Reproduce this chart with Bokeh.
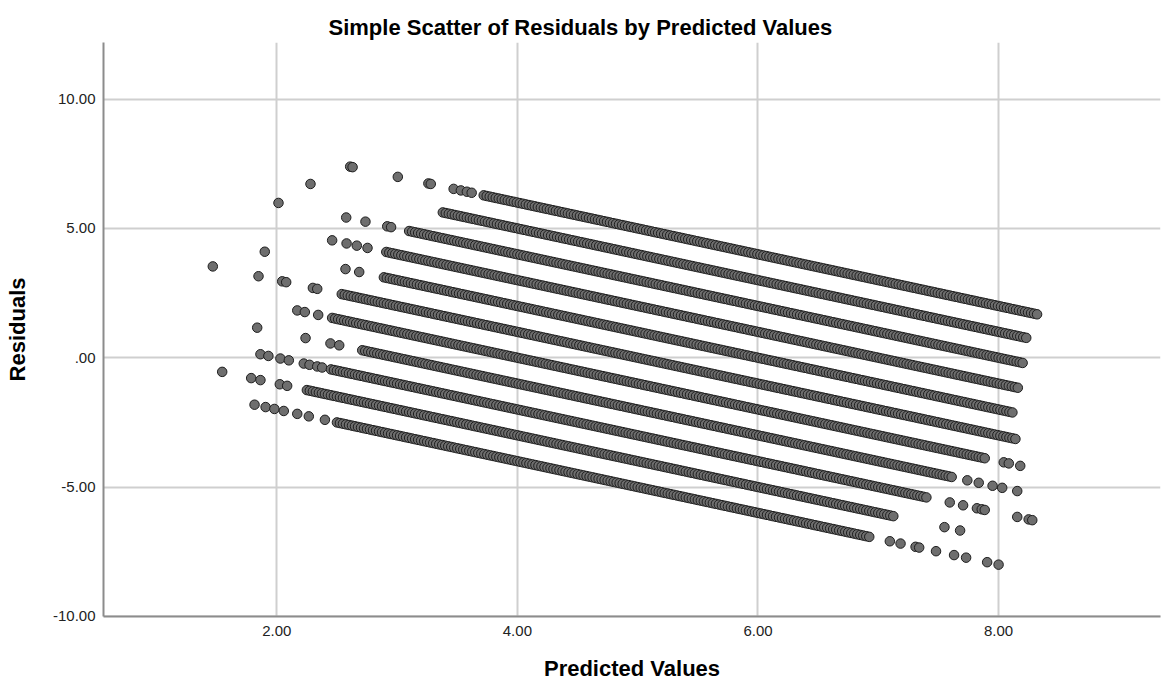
import numpy as np
from bokeh.plotting import figure
from bokeh.models import FixedTicker, Range1d, Title, ColumnDataSource
from bokeh.embed import file_html
from bokeh.resources import INLINE

# ---- data ----
# Observed outcome levels (each diagonal band of residuals = level - predicted)
OBSERVED_LEVELS = [0, 1, 2, 3, 4, 5, 6, 7, 8, 9, 10]
# Extent of the densely packed run of predicted values for each level
DENSE_START = [2.50, 2.25, 2.45, 2.71, 2.46, 2.54, 2.89, 2.91, 3.10, 3.38, 3.72]
DENSE_END = [6.94, 7.14, 7.42, 7.63, 7.905, 8.155, 8.13, 8.17, 8.22, 8.24, 8.32]
DENSE_STEP = 0.025
# Isolated predicted values outside the dense runs, per level
ISOLATED_PRED = [
    [1.815, 1.907, 1.98, 2.058, 2.17, 2.266, 2.40, 7.096, 7.185, 7.31, 7.34,
     7.48, 7.63, 7.73, 7.905, 8.0],
    [1.546, 1.787, 1.864, 2.025, 2.086, 7.55, 7.68],
    [1.864, 1.93, 2.03, 2.10, 2.224, 2.272, 2.336, 2.377, 7.594, 7.705, 7.82,
     7.86, 7.885, 8.155, 8.25, 8.28],
    [1.837, 2.239, 2.446, 2.519, 7.74, 7.835, 7.95, 8.03, 8.155],
    [2.17, 2.233, 2.344, 8.043, 8.085, 8.18],
    [1.468, 1.848, 2.045, 2.078, 2.30, 2.336],
    [1.90, 2.571, 2.685],
    [2.46, 2.58, 2.665, 2.754],
    [2.014, 2.577, 2.737, 2.918, 2.95],
    [2.28],
    [2.61, 2.63, 3.006, 3.26, 3.28, 3.47, 3.53, 3.58, 3.62],
]
X_TICKS = [2, 4, 6, 8]
X_TICK_LABELS = ["2.00", "4.00", "6.00", "8.00"]
Y_TICKS = [-10, -5, 0, 5, 10]
Y_TICK_LABELS = ["-10.00", "-5.00", ".00", "5.00", "10.00"]

TITLE = "Simple Scatter of Residuals by Predicted Values"
X_LABEL = "Predicted Values"
Y_LABEL = "Residuals"

# ---- build the point table ----
pred_all, resid_all = [], []
for lvl, s, e, iso in zip(OBSERVED_LEVELS, DENSE_START, DENSE_END, ISOLATED_PRED):
    run = np.arange(s, e + 1e-9, DENSE_STEP)
    pv = np.concatenate([np.array(iso, dtype=float), run])
    pred_all.append(pv)
    resid_all.append(lvl - pv)
src = ColumnDataSource(dict(pred=np.concatenate(pred_all), resid=np.concatenate(resid_all)))

FONT = "Liberation Sans"

p = figure(width=1164, height=684, output_backend="svg", toolbar_location=None,
           x_range=Range1d(0.5594, 9.346), y_range=Range1d(-10.005, 12.19),
           min_border_left=103, min_border_right=4, min_border_top=42, min_border_bottom=68)
p.title = Title(text=TITLE, align="left", offset=225, text_font=FONT,
                text_font_size="22px", text_font_style="bold", text_color="#000000",
                standoff=5)
p.outline_line_color = None
p.background_fill_color = "white"

for ax, ticks, labels in ((p.xaxis, X_TICKS, X_TICK_LABELS), (p.yaxis, Y_TICKS, Y_TICK_LABELS)):
    ax.ticker = FixedTicker(ticks=ticks)
    ax.major_label_overrides = {t: l for t, l in zip(ticks, labels)}
    ax.axis_line_color = "#8c8c8c"
    ax.axis_line_width = 2
    ax.major_tick_line_color = None
    ax.minor_tick_line_color = None
    ax.major_tick_out = 0
    ax.major_tick_in = 0
    ax.minor_tick_out = 0
    ax.minor_tick_in = 0
    ax.major_label_text_font = FONT
    ax.major_label_text_font_size = "15px"
    ax.major_label_text_color = "#222222"
    ax.axis_label_text_font = FONT
    ax.axis_label_text_font_size = "22px"
    ax.axis_label_text_font_style = "bold"
    ax.axis_label_text_color = "#000000"

p.xaxis.axis_label = X_LABEL
p.yaxis.axis_label = Y_LABEL
p.xaxis.major_label_standoff = 9
p.yaxis.major_label_standoff = 8
p.xaxis.axis_label_standoff = 17
p.yaxis.axis_label_standoff = 20

p.xgrid.ticker = FixedTicker(ticks=X_TICKS)
p.ygrid.ticker = FixedTicker(ticks=Y_TICKS)
for g in (p.xgrid, p.ygrid):
    g.grid_line_color = "#cfcfcf"
    g.grid_line_width = 2

p.scatter("pred", "resid", source=src, marker="circle", size=9.5,
          fill_color="#6e6e6e", line_color="#1e1e1e", line_width=1)

open("out.html", "w").write(file_html(p, INLINE))
